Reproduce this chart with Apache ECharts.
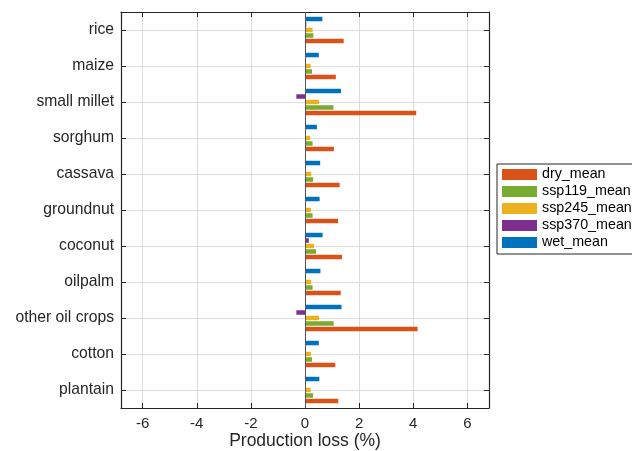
<!DOCTYPE html>
<html>
<head>
<meta charset="utf-8">
<script src="https://cdn.jsdelivr.net/npm/echarts@6/dist/echarts.min.js"></script>
<style>html,body{margin:0;padding:0;background:#fff}#c{width:632px;height:451px}</style>
</head>
<body>
<div id="c"></div>
<script>
const categories = ['rice','maize','small millet','sorghum','cassava','groundnut','coconut','oilpalm','other oil crops','cotton','plantain'];
const dry_mean    = [1.43, 1.14, 4.11, 1.07, 1.28, 1.22, 1.37, 1.32, 4.16, 1.12, 1.23];
const ssp119_mean = [0.31, 0.26, 1.05, 0.28, 0.30, 0.28, 0.41, 0.28, 1.06, 0.26, 0.30];
const ssp245_mean = [0.28, 0.21, 0.52, 0.19, 0.23, 0.22, 0.33, 0.23, 0.52, 0.22, 0.21];
const ssp370_mean = [0.05, 0.01, -0.32, 0.01, 0.01, 0.01, 0.14, 0.01, -0.32, 0.01, 0.01];
const wet_mean    = [0.64, 0.51, 1.33, 0.44, 0.56, 0.54, 0.65, 0.57, 1.35, 0.51, 0.53];
const xTicks = [-6, -4, -2, 0, 2, 4, 6];
const yTicks = [1,2,3,4,5,6,7,8,9,10,11];

const seriesDefs = [
  ['dry_mean', dry_mean, '#D95319'],
  ['ssp119_mean', ssp119_mean, '#77AC30'],
  ['ssp245_mean', ssp245_mean, '#EDB120'],
  ['ssp370_mean', ssp370_mean, '#7E2F8E'],
  ['wet_mean', wet_mean, '#0072BD']
];
const FONT = 'Liberation Sans';
const TXT = '#262626';
const AX = '#262626';

// wet_mean drawn on top within each group, dry_mean at the bottom
const series = seriesDefs.slice().reverse().map((d, i) => {
  const s = {
    name: d[0], type: 'bar', data: d[1], xAxisIndex: 0, yAxisIndex: 0,
    itemStyle: { color: d[2] }, barWidth: 4.5, barGap: '22%',
    emphasis: { disabled: true }
  };
  if (i === 0) {
    s.markLine = { silent: true, symbol: 'none', label: { show: false },
      lineStyle: { color: '#555', type: 'solid', width: 1 }, data: [{ xAxis: 0 }] };
  }
  return s;
});

const chart = echarts.init(document.getElementById('c'), null, { renderer: 'canvas' });
chart.setOption({
  animation: false,
  backgroundColor: '#fff',
  textStyle: { fontFamily: FONT },
  grid: { left: 121, right: 143, top: 12, bottom: 43, containLabel: false, outerBoundsMode: 'none' },
  legend: {
    orient: 'vertical', left: 497, top: 164,
    data: seriesDefs.map(d => d[0]),
    icon: 'rect', itemWidth: 35, itemHeight: 11, itemGap: 0,
    padding: [2, 10, 3, 5],
    backgroundColor: '#fff', borderColor: AX, borderWidth: 1,
    textStyle: { fontFamily: FONT, fontSize: 14.3, color: '#000', lineHeight: 17 },
    selectedMode: false
  },
  xAxis: [
    {
      type: 'value', position: 'bottom', min: -6.8, max: 6.8,
      name: 'Production loss (%)', nameLocation: 'middle', nameGap: 24, nameMoveOverlap: false,
      nameTextStyle: { fontFamily: FONT, fontSize: 17.5, color: TXT },
      axisLine: { show: true, onZero: false, lineStyle: { color: AX, width: 1.2 } },
      axisTick: { show: true, inside: true, length: 5, customValues: xTicks, lineStyle: { color: AX } },
      axisLabel: { customValues: xTicks, fontFamily: FONT, fontSize: 15, color: TXT, margin: 8 },
      splitLine: { show: true, lineStyle: { color: '#dcdcdc', width: 1 } }
    },
    {
      type: 'value', position: 'top', min: -6.8, max: 6.8,
      axisLine: { show: true, onZero: false, lineStyle: { color: AX, width: 1.2 } },
      axisTick: { show: true, inside: true, length: 5, customValues: xTicks, lineStyle: { color: AX } },
      axisLabel: { show: false },
      splitLine: { show: false }
    }
  ],
  yAxis: [
    {
      type: 'category', data: categories, inverse: true, position: 'left',
      axisLine: { show: true, onZero: false, lineStyle: { color: AX, width: 1.2 } },
      axisTick: { show: true, inside: true, length: 5, alignWithLabel: true, lineStyle: { color: AX } },
      axisLabel: { fontFamily: FONT, fontSize: 15.7, color: TXT, margin: 7 },
      splitLine: { show: false }
    },
    {
      type: 'value', min: 0.5, max: 11.5, inverse: true, position: 'right',
      axisLine: { show: true, onZero: false, lineStyle: { color: AX, width: 1.2 } },
      axisTick: { show: true, inside: true, length: 5, customValues: yTicks, lineStyle: { color: AX } },
      axisLabel: { show: false, customValues: yTicks },
      splitLine: { show: true, lineStyle: { color: '#dcdcdc', width: 1 } }
    }
  ],
  series: series
});
</script>
</body>
</html>
